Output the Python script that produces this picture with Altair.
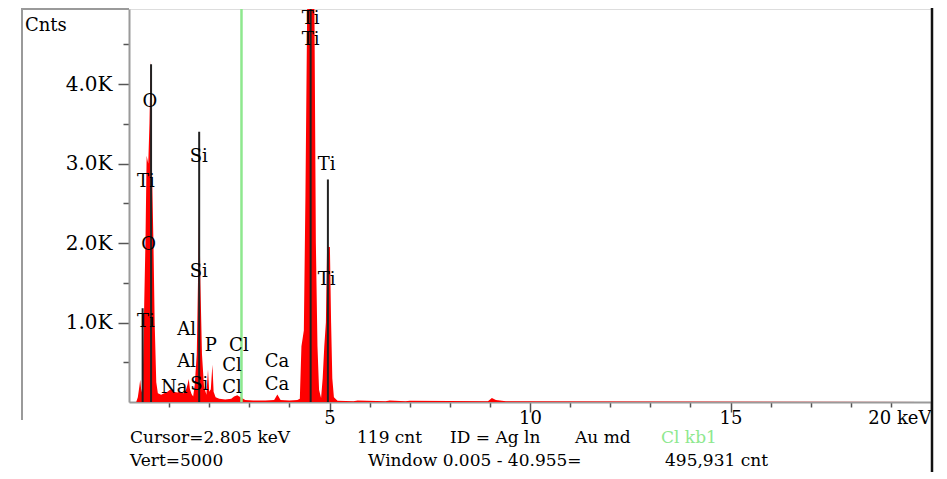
import altair as alt
import pandas as pd

# ---- spectrum (red filled histogram) ----
red_kev = [0.00, 0.18, 0.22, 0.26, 0.28, 0.31, 0.34, 0.37, 0.41, 0.44,
           0.48, 0.51, 0.54, 0.57, 0.61, 0.64, 0.68, 0.72, 0.80, 0.88,
           0.96, 1.04, 1.12, 1.20, 1.28, 1.36, 1.42, 1.46, 1.49, 1.52,
           1.56, 1.60, 1.64, 1.69, 1.72, 1.75, 1.78, 1.82, 1.87, 1.93,
           1.97, 2.00, 2.04, 2.08, 2.11, 2.16, 2.25, 2.40, 2.55, 2.62,
           2.70, 2.78, 2.90, 3.10, 3.40, 3.62, 3.70, 3.78, 4.00, 4.20,
           4.26, 4.30, 4.36, 4.40, 4.45, 4.62, 4.66, 4.70, 4.74, 4.79,
           4.83, 4.87, 4.91, 4.94, 5.01, 5.04, 5.07, 5.11, 5.20, 5.60,
           5.70, 6.40, 6.50, 6.90, 7.00, 8.95, 9.05, 9.15, 9.40, 20.0]
red_cnt = [0, 0, 60, 200, 280, 120, 220, 1000, 2000, 3100,
           3000, 3500, 4300, 3000, 2000, 1000, 250, 110, 90, 110,
           130, 160, 130, 120, 130, 110, 150, 220, 290, 160,
           100, 70, 220, 600, 1500, 2600, 1500, 600, 200, 90,
           410, 130, 160, 470, 130, 60, 40, 30, 40, 70,
           85, 60, 25, 20, 20, 25, 95, 25, 20, 25,
           40, 700, 900, 2600, 5300, 5300, 2000, 700, 150, 50,
           300, 700, 1000, 1950, 1950, 1000, 300, 60, 15, 10,
           20, 10, 20, 10, 15, 10, 50, 25, 10, 0]

# ---- black trace lines at peak centres ----
trace_kev = [0.34, 0.55, 1.75, 4.53, 4.96]
trace_cnt = [1180, 4250, 3400, 5200, 2800]

# ---- element labels ----
label_text = ["Ti", "Ti", "O", "Ti", "O", "Ti", "Si", "Si", "Al", "Al",
              "Na", "Si", "P", "Cl", "Cl", "Cl", "Ca", "Ca", "Ti", "Ti"]
label_kev = [4.53, 4.53, 0.52, 0.42, 0.49, 0.42, 1.74, 1.74, 1.44, 1.44,
             1.13, 1.75, 2.04, 2.74, 2.57, 2.57, 3.69, 3.69, 4.93, 4.93]
label_cnt = [4820, 4560, 3778, 2771, 1977, 1008, 3086, 1637, 907, 504,
             176, 214, 705, 705, 453, 176, 504, 214, 2985, 1536]

x_tick_values = list(range(1, 21))
y_tick_values = [500, 1000, 1500, 2000, 2500, 3000, 3500, 4000, 4500]
cursor_kev = [2.805]

footer1 = ["Cursor=2.805 keV", "119 cnt", "ID = Ag ln", "Au md"]
footer1_green = ["Cl kb1"]
footer2 = ["Vert=5000", "Window 0.005 - 40.955=", "495,931 cnt"]

# ---- layout ----
W, H = 802, 393
FONT = "DejaVu Serif"
xs = alt.Scale(domain=[0, 20], nice=False, zero=False)
ys = alt.Scale(domain=[0, 4945], nice=False)

x_axis = alt.Axis(
    values=x_tick_values, title=None, grid=False,
    tickSize={"condition": {"test": "datum.value % 5 === 0", "value": 10}, "value": 5},
    labelExpr="datum.value === 20 ? '20 keV' : (datum.value % 5 === 0 ? '' + datum.value : '')",
    labelAlign={"condition": {"test": "datum.value === 20", "value": "right"}, "value": "center"},
    labelFont=FONT, labelFontSize=18, labelColor="black", labelPadding=-3,
    labelOverlap=False, labelFlush=False,
    domainColor="#9a9a9a", domainWidth=2, tickColor="#555", tickWidth=1.5)

y_axis = alt.Axis(
    values=y_tick_values, title=None, grid=False,
    tickSize={"condition": {"test": "datum.value % 1000 === 0", "value": 11}, "value": 6},
    labelExpr="datum.value % 1000 === 0 ? format(datum.value / 1000, '.1f') + 'K' : ''",
    labelFont=FONT, labelFontSize=20, labelColor="black", labelPadding=6,
    labelOverlap=False, labelFlush=False,
    domainColor="#9a9a9a", domainWidth=2, tickColor="#555", tickWidth=1.5)

spec = pd.DataFrame({"kev": red_kev, "cnt": red_cnt})
area = alt.Chart(spec).mark_area(color="#ff0000", clip=True, interpolate="linear").encode(
    x=alt.X("kev:Q", scale=xs, axis=x_axis),
    y=alt.Y("cnt:Q", scale=ys, axis=y_axis),
)

trace = alt.Chart(pd.DataFrame({"kev": trace_kev, "cnt": trace_cnt})).mark_rule(
    color="#222222", strokeWidth=2, clip=True).encode(
    x=alt.X("kev:Q", scale=xs), y=alt.Y("cnt:Q", scale=ys), y2=alt.datum(0))

cursor = alt.Chart(pd.DataFrame({"kev": cursor_kev})).mark_rule(
    color="#8ee88e", strokeWidth=2.5).encode(x=alt.X("kev:Q", scale=xs))

labels = alt.Chart(pd.DataFrame({"t": label_text, "kev": label_kev, "cnt": label_cnt})).mark_text(
    font=FONT, fontSize=18, color="black", align="center", baseline="middle").encode(
    x=alt.X("kev:Q", scale=xs), y=alt.Y("cnt:Q", scale=ys), text="t:N")

one = pd.DataFrame({"a": [0]})
frame_top = alt.Chart(one).mark_rule(color="#9a9a9a", strokeWidth=2).encode(
    x=alt.value(-107), x2=alt.value(0), y=alt.value(0))
frame_left = alt.Chart(one).mark_rule(color="#9a9a9a", strokeWidth=2).encode(
    x=alt.value(-107), y=alt.value(-1), y2=alt.value(411))
frame_right = alt.Chart(one).mark_rule(color="#111111", strokeWidth=2.5).encode(
    x=alt.value(803), y=alt.value(-1), y2=alt.value(480))

cnts = alt.Chart(pd.DataFrame({"t": ["Cnts"]})).mark_text(
    font=FONT, fontSize=18, color="black", align="left", baseline="middle").encode(
    text="t:N", x=alt.value(-104), y=alt.value(17))


def footer(texts, xs_px, y_px, color="black"):
    out = []
    for t, px in zip(texts, xs_px):
        out.append(alt.Chart(pd.DataFrame({"t": [t]})).mark_text(
            font=FONT, fontSize=17, color=color, align="left", baseline="middle").encode(
            text="t:N", x=alt.value(px), y=alt.value(y_px)))
    return out


foot = (footer(footer1, [1, 228, 321, 446], 429)
        + footer(footer1_green, [532], 429, "#8ee88e")
        + footer(footer2, [1, 239, 536], 452))

chart = alt.layer(area, trace, cursor, labels, frame_top, frame_left, frame_right, cnts, *foot).properties(
    width=W, height=H,
    autosize=alt.AutoSizeParams(type="none"),
    padding={"left": 121, "top": 1, "right": 8, "bottom": 70},
).configure_view(stroke="#9a9a9a", strokeWidth=2).configure(background="white")

chart.save("out.html", embed_options={"renderer": "svg", "actions": False})
